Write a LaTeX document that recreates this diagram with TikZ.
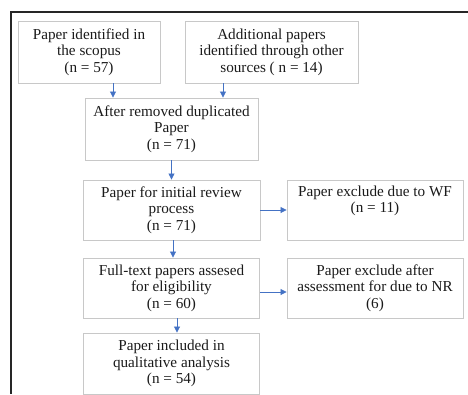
\documentclass[tikz,border=0pt]{standalone}
\usepackage{fontspec}
\setmainfont{Liberation Serif}
\usetikzlibrary{positioning,arrows.meta}
\definecolor{arrblue}{HTML}{4472C4}
\definecolor{boxgray}{HTML}{C8C8C8}
\definecolor{txtgray}{HTML}{1A1A1A}
\begin{document}
\begin{tikzpicture}[x=1pt,y=-1pt,
  box/.style={draw=boxgray, line width=0.9pt, align=center, inner sep=0pt,
    text=txtgray, font=\fontsize{15.2}{16.5}\selectfont},
  arr/.style={draw=arrblue, line width=0.8pt, -{Triangle[width=6pt,length=6pt]}}]
\useasboundingbox (0,0) rectangle (468,394);
\coordinate (frametr) at (468,12);
\coordinate (frametl) at (11,12);
\coordinate (framebl) at (11,394);
\draw [line width=1.4pt, black!85] (frametr) -- (frametl) -- (framebl);
\node[box, minimum width=142pt, minimum height=62pt] (scopus) at (89,52) {Paper identified in\\the scopus\\(n = 57)};
\node[box, minimum width=173pt, minimum height=62pt] (other) at (271.5,52) {Additional papers\\identified through other\\sources ( n = 14)};
\node[box, minimum width=173pt, minimum height=62pt] (dup) at (171.5,129) {After removed duplicated\\Paper\\(n = 71)};
\node[box, minimum width=177pt, minimum height=60pt] (review) at (171.5,210) {Paper for initial review\\process\\(n = 71)};
\node[box, minimum width=176pt, minimum height=60pt] (wf) at (375,210) {Paper exclude due to WF\\(n = 11)\\\strut};
\node[box, minimum width=176pt, minimum height=60pt] (full) at (171.5,288) {Full-text papers assesed\\for eligibility\\(n = 60)};
\node[box, minimum width=176pt, minimum height=60pt] (nr) at (375,288) {Paper exclude after\\assessment for due to NR\\(6)};
\node[box, minimum width=176pt, minimum height=61pt] (incl) at (171.5,363.5) {Paper included in\\qualitative analysis\\(n = 54)};
\draw [arr] ([xshift=24pt]scopus.south) -- ([xshift=24pt]scopus.south |- dup.north);
\draw [arr] ([xshift=-48.5pt]other.south) -- ([xshift=-48.5pt]other.south |- dup.north);
\draw [arr] (dup.south) -- (review.north);
\draw [arr] ([xshift=1.5pt]review.south) -- ([xshift=1.5pt]review.south |- full.north);
\draw [arr] ([xshift=5.5pt]full.south) -- ([xshift=5.5pt]full.south |- incl.north);
\draw [arr] (review.east) -- (wf.west);
\draw [arr] ([yshift=-4pt]full.east) -- ([yshift=-4pt]full.east -| nr.west);
\end{tikzpicture}
\end{document}
